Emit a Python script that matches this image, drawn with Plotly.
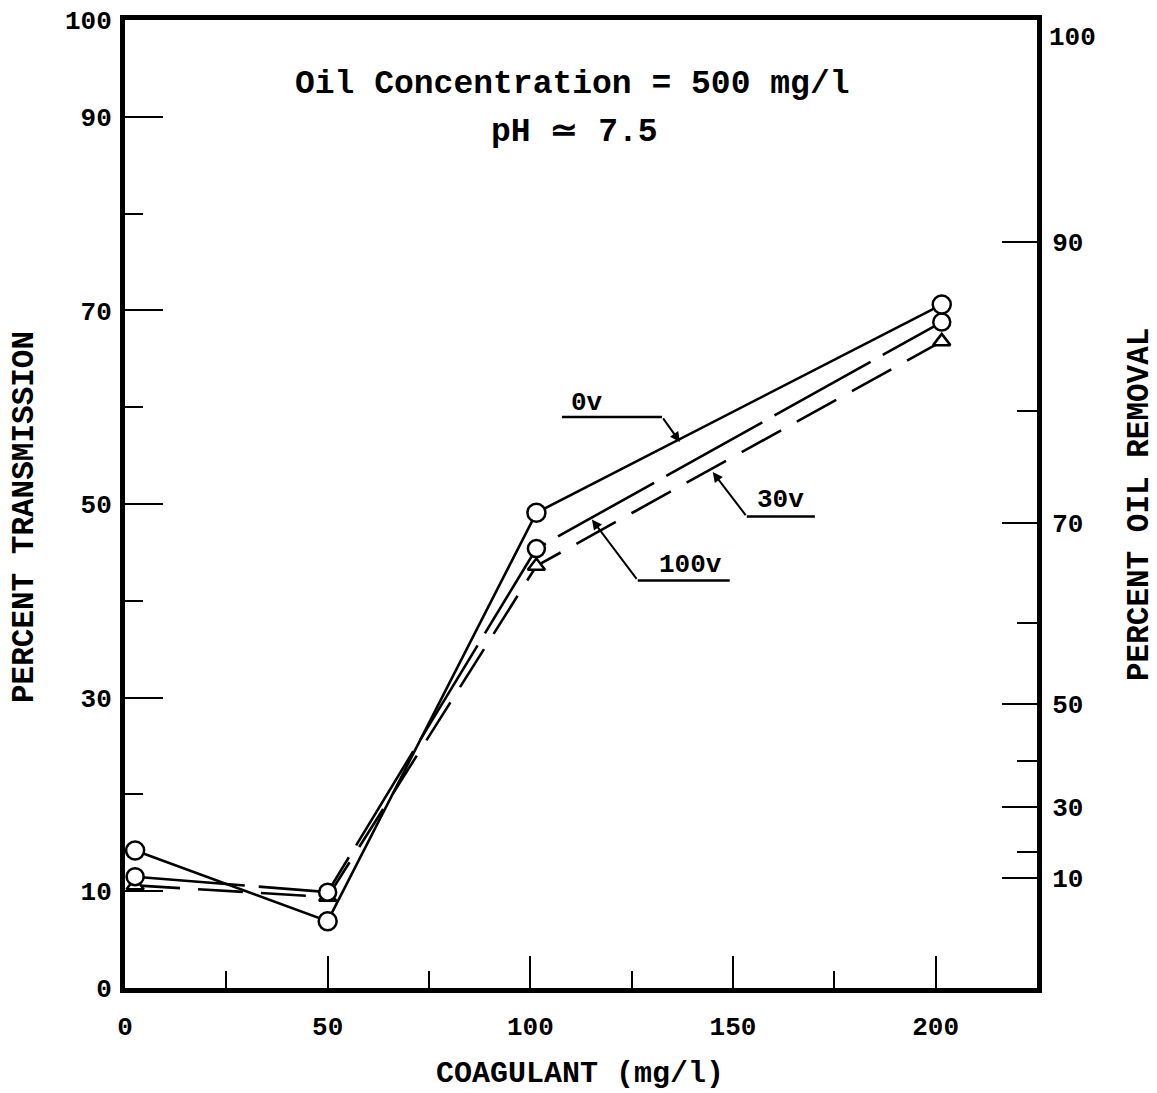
import plotly.graph_objects as go

# ---- data ----
coagulant = [2.5, 50, 101.5, 201.5]          # mg/l
trans_0v = [14.2, 6.9, 49.1, 70.6]           # percent transmission
trans_100v = [11.5, 9.9, 45.4, 68.8]
trans_30v = [10.6, 9.4, 43.6, 66.8]

x_ticks = [0, 50, 100, 150, 200]
x_minor = [25, 75, 125, 175]
left_ticks = [0, 10, 30, 50, 70, 90, 100]
left_minor = [20, 40, 60, 80]
removal_labels = ["90", "70", "50", "30", "10"]
removal_pos = [77.1, 48.0, 29.3, 18.7, 11.4]      # in transmission units
removal_minor_pos = [59.6, 37.7, 23.5, 14.0]

FONT = "Liberation Mono"
tickfont = dict(family=FONT, size=26, color="black", weight="bold")

fig = go.Figure()

line_w = 2.6
fig.add_trace(go.Scatter(
    x=coagulant, y=trans_30v, mode="lines+markers", name="30v",
    line=dict(color="black", width=line_w, dash="45px,18px"),
    marker=dict(symbol="triangle-up", size=15, color="white",
                line=dict(color="black", width=2.5)),
    showlegend=False))
fig.add_trace(go.Scatter(
    x=coagulant, y=trans_100v, mode="lines+markers", name="100v",
    line=dict(color="black", width=line_w, dash="110px,14px"),
    marker=dict(symbol="circle", size=17, color="white",
                line=dict(color="black", width=2.5)),
    showlegend=False))
fig.add_trace(go.Scatter(
    x=coagulant, y=trans_0v, mode="lines+markers", name="0v",
    line=dict(color="black", width=line_w),
    marker=dict(symbol="circle", size=18, color="white",
                line=dict(color="black", width=2.5)),
    showlegend=False))
# carrier trace for the right axis
fig.add_trace(go.Scatter(x=[None], y=[None], yaxis="y2", showlegend=False,
                         hoverinfo="skip"))

fig.update_layout(
    width=1157, height=1093,
    margin=dict(l=117, r=128, t=12, b=113, autoexpand=False),
    plot_bgcolor="white", paper_bgcolor="white",
    xaxis=dict(range=[0, 225], showline=True, linewidth=5, linecolor="black",
               mirror=True, ticks="inside", ticklen=32, tickwidth=2,
               tickcolor="black", tickvals=x_ticks, automargin=False,
               minor=dict(tickvals=x_minor, ticks="inside", ticklen=17,
                          tickwidth=2, tickcolor="black", showgrid=False),
               showgrid=False, zeroline=False, tickfont=tickfont,
               ticklabelstandoff=11, ticklabeloverflow="allow"),
    yaxis=dict(range=[0, 100], showline=True, linewidth=5, linecolor="black",
               ticks="inside", ticklen=38, tickwidth=2, tickcolor="black",
               tickvals=left_ticks, automargin=False,
               minor=dict(tickvals=left_minor, ticks="inside", ticklen=18,
                          tickwidth=2, tickcolor="black", showgrid=False),
               showgrid=False, zeroline=False, tickfont=tickfont,
               ticklabelstandoff=3, ticklabeloverflow="allow"),
    yaxis2=dict(range=[0, 100], overlaying="y", side="right", showline=True,
                linewidth=5, linecolor="black", ticks="inside", ticklen=35,
                tickwidth=2, tickcolor="black", tickvals=removal_pos,
                ticktext=removal_labels, automargin=False,
                minor=dict(tickvals=removal_minor_pos, ticks="inside",
                           ticklen=20, tickwidth=2, tickcolor="black",
                           showgrid=False),
                showgrid=False, zeroline=False, tickfont=tickfont,
                ticklabelstandoff=5, ticklabeloverflow="allow"),
)

ann_font = dict(family=FONT, size=26, color="black", weight="bold")
title_font = dict(family=FONT, size=31, color="black", weight="bold")
xtitle_font = dict(family=FONT, size=30, color="black", weight="bold")
head_font = dict(family=FONT, size=33, color="black", weight="bold")
annotations = [
    dict(text="Oil Concentration = 500 mg/l", x=110.3, y=93.3, xref="x",
         yref="y", showarrow=False, font=head_font),
    dict(text="pH ≃ 7.5", x=111, y=88.4, xref="x", yref="y",
         showarrow=False, font=head_font),
    dict(text="PERCENT TRANSMISSION", x=-0.1096, y=0.4866, xref="paper",
         yref="paper", xanchor="center", yanchor="middle", textangle=-90,
         showarrow=False, font=title_font),
    dict(text="PERCENT OIL REMOVAL", x=1.113, y=0.499, xref="paper",
         yref="paper", xanchor="center", yanchor="middle", textangle=-90,
         showarrow=False, font=title_font),
    dict(text="COAGULANT (mg/l)", x=0.499, y=-0.0885, xref="paper",
         yref="paper", xanchor="center", yanchor="middle", showarrow=False,
         font=xtitle_font),
    dict(text="100", x=1.0, y=98.1, xref="paper", yref="y", xanchor="left",
         yanchor="middle", xshift=10, showarrow=False, font=tickfont),
    # series labels
    dict(text="0v", x=114.0, y=60.4, xref="x", yref="y", showarrow=False,
         font=ann_font),
    dict(text="30v", x=161.6, y=50.4, xref="x", yref="y", showarrow=False,
         font=ann_font),
    dict(text="100v", x=139.6, y=43.7, xref="x", yref="y", showarrow=False,
         font=ann_font),
    # leader arrows
    dict(x=136.9, y=56.4, ax=132.5, ay=59.0, xref="x", yref="y", axref="x",
         ayref="y", text="", showarrow=True, arrowhead=2, arrowsize=1,
         arrowwidth=2, arrowcolor="black"),
    dict(x=145.0, y=53.3, ax=153.4, ay=48.7, xref="x", yref="y", axref="x",
         ayref="y", text="", showarrow=True, arrowhead=2, arrowsize=1,
         arrowwidth=2, arrowcolor="black"),
    dict(x=115.2, y=48.4, ax=126.5, ay=42.1, xref="x", yref="y", axref="x",
         ayref="y", text="", showarrow=True, arrowhead=2, arrowsize=1,
         arrowwidth=2, arrowcolor="black"),
]
fig.update_layout(annotations=annotations)

# underlines of the series labels
for x0, x1, yv in [(107.8, 132.5, 59.0), (153.4, 170.2, 48.7),
                   (126.5, 149.2, 42.1)]:
    fig.add_shape(type="line", x0=x0, x1=x1, y0=yv, y1=yv, xref="x",
                  yref="y", line=dict(color="black", width=2.5))

fig.write_html("out.html")
